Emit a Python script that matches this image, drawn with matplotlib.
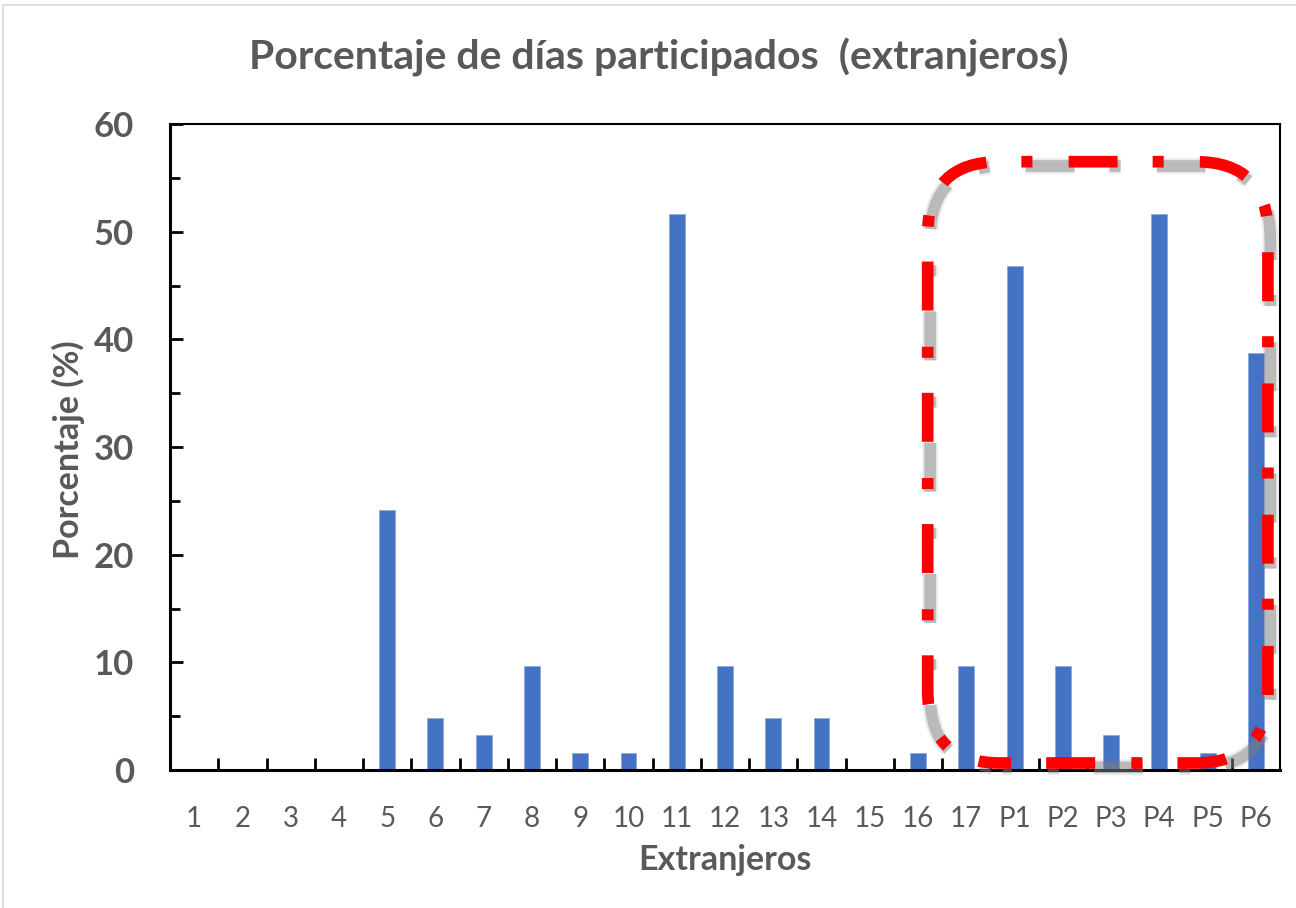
import matplotlib
matplotlib.use("Agg")
import matplotlib.pyplot as plt
from matplotlib.patches import FancyBboxPatch
from matplotlib.lines import Line2D
from matplotlib.ticker import MultipleLocator, FixedLocator

plt.rcParams['font.family'] = ['Lato', 'DejaVu Sans']

categories = [str(i) for i in range(1, 18)] + ['P1', 'P2', 'P3', 'P4', 'P5', 'P6']
days_participated = [0, 0, 0, 0, 15, 3, 2, 6, 1, 1, 32, 6, 3, 3, 0, 1, 6, 29, 6, 2, 32, 1, 24]
total_days = 62
percentages = [d / total_days * 100 for d in days_participated]

title = 'Porcentaje de días participados  (extranjeros)'
xlabel = 'Extranjeros'
ylabel = 'Porcentaje (%)'

text_gray = '#595959'
bar_blue = '#4472C4'

fig = plt.figure(figsize=(12.96, 9.08), dpi=100)
ax = fig.add_axes([170 / 1296, 1 - 770 / 908, 1110 / 1296, 646 / 908])

x = list(range(len(categories)))
ax.bar(x, percentages, width=0.33, color=bar_blue, edgecolor='#8faadc', linewidth=0.6, zorder=2)

ax.set_xlim(-0.5, len(categories) - 0.5)
ax.set_ylim(0, 60)

ax.yaxis.set_major_locator(MultipleLocator(10))
ax.yaxis.set_minor_locator(MultipleLocator(5))
ax.set_xticks(x)
ax.set_xticklabels(categories)
ax.xaxis.set_minor_locator(FixedLocator([i + 0.5 for i in range(len(categories) - 1)]))

ax.tick_params(axis='x', which='major', length=0, pad=26, labelsize=20, labelcolor=text_gray)
ax.tick_params(axis='x', which='minor', direction='in', length=9, width=2, color='black')
ax.tick_params(axis='y', which='major', direction='in', length=9, width=2,
               pad=26, labelsize=25, labelcolor=text_gray)
ax.tick_params(axis='y', which='minor', direction='in', length=7, width=2)
for lbl in ax.get_yticklabels():
    lbl.set_fontweight('bold')

for side in ['left', 'bottom']:
    ax.spines[side].set_linewidth(2.2)
for side in ['top', 'right']:
    ax.spines[side].set_linewidth(1.5)
for s in ax.spines.values():
    s.set_color('black')

fig.text(0.5 * (248 + 1070) / 1296, 1 - 57 / 908, title, ha='center', va='center',
         fontsize=29.5, fontweight='bold', color=text_gray)
fig.text(725 / 1296, 1 - 860 / 908, xlabel, ha='center', va='center',
         fontsize=24.5, fontweight='bold', color=text_gray)
fig.text(68 / 1296, 1 - 450 / 908, ylabel, ha='center', va='center', rotation=90,
         fontsize=24.5, fontweight='bold', color=text_gray)

# chart-area outline along the top and left edges
fig.add_artist(Line2D([3 / 1296, 1], [1 - 5 / 908, 1 - 5 / 908], color='#d9d9d9', lw=1.2))
fig.add_artist(Line2D([3 / 1296, 3 / 1296], [0, 1 - 5 / 908], color='#d9d9d9', lw=1.2))

# rounded highlight box around the last group of participants
px_per_x = 1110 / len(categories)
px_per_y = 646 / 60
aspect = px_per_x / px_per_y
x0, x1 = 15.2, 22.25
y0, y1 = 0.65, 56.5
box_kw = dict(boxstyle='round,pad=0,rounding_size=1.5', mutation_aspect=aspect,
              fill=False, clip_on=False)
lw_box = 8.4
dash = (0.95, 3.0, 4.2, 3.1)
# soft grey shadow, shifted along the outline and slightly down-right
for lw, alpha in [(lw_box + 3, 0.15), (lw_box, 0.45)]:
    shadow = FancyBboxPatch((x0 + 0.05, y0 - 0.4), x1 - x0, y1 - y0,
                            edgecolor='#7f7f7f', linewidth=lw, alpha=alpha,
                            linestyle=(-3.9 * lw_box / lw, tuple(d * lw_box / lw for d in dash)),
                            zorder=3, **box_kw)
    shadow.set_capstyle('butt')
    ax.add_patch(shadow)
box = FancyBboxPatch((x0, y0), x1 - x0, y1 - y0,
                     edgecolor='#ff0000', linewidth=lw_box,
                     linestyle=(0, dash), zorder=4, **box_kw)
box.set_capstyle('butt')
ax.add_patch(box)

fig.savefig('out.png', dpi=100)
